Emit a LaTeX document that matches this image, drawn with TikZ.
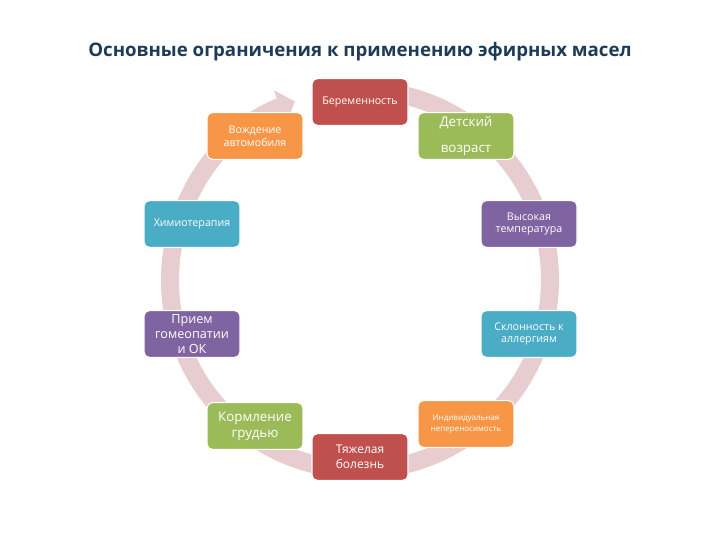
\documentclass[tikz,border=0pt]{standalone}
\usepackage{fontspec}
\setmainfont{Open Sans}
\usetikzlibrary{arrows.meta}
\definecolor{cred}{HTML}{C0504D}
\definecolor{corange}{HTML}{F79646}
\definecolor{cgreen}{HTML}{9BBB59}
\definecolor{cteal}{HTML}{4BACC6}
\definecolor{cpurple}{HTML}{8064A2}
\definecolor{cring}{HTML}{E8CDD0}
\definecolor{ctitle}{HTML}{1F3B5A}
\tikzset{
 box/.style={rounded corners=4pt, minimum width=72pt, minimum height=35pt, text=white, align=center, inner sep=1pt, draw=white, line width=0.8pt, font=\fontsize{8}{9.5}\selectfont},
}
\begin{document}
\begin{tikzpicture}[x=0.75pt,y=0.75pt]
\useasboundingbox (0,0) rectangle (720,540);
\node[font=\bfseries\fontsize{14}{16}\selectfont, text=ctitle] (title) at (360,488) {Основные ограничения к применению эфирных масел};
\draw[cring, line width=13.5pt, -{Triangle[width=26pt,length=12pt]}] (360,260) ++(80:190) arc[start angle=80, end angle=-250, radius=190];
\node[box, fill=cred] (b1) at (360,438) {Беременность};
\node[box, fill=corange] (b2) at (255,404) {Вождение\\автомобиля};
\node[box, fill=cgreen, font=\fontsize{10}{19}\selectfont] (b3) at (466,404) {Детский\\возраст};
\node[box, fill=cteal] (b4) at (192,316) {Химиотерапия};
\node[box, fill=cpurple] (b5) at (529,316) {Высокая\\температура};
\node[box, fill=cpurple, font=\fontsize{9.5}{11}\selectfont] (b6) at (192,206) {Прием\\гомеопатии\\и ОК};
\node[box, fill=cteal] (b7) at (529,206) {Склонность к\\аллергиям};
\node[box, fill=cgreen, font=\fontsize{10}{12}\selectfont] (b8) at (255,114) {Кормление\\грудью};
\node[box, fill=corange, font=\fontsize{6}{8}\selectfont] (b9) at (466,116) {Индивидуальная\\непереносимость};
\node[box, fill=cred, font=\fontsize{9}{11}\selectfont] (b10) at (360,83) {Тяжелая\\болезнь};
\end{tikzpicture}
\end{document}
